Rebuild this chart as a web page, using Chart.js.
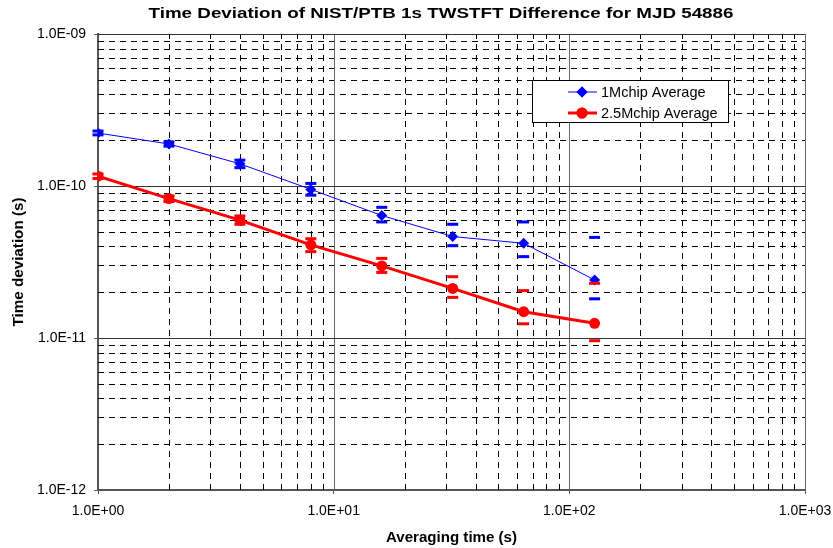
<!DOCTYPE html>
<html>
<head>
<meta charset="utf-8">
<script src="https://cdn.jsdelivr.net/npm/chart.js@4.4.0/dist/chart.umd.min.js"></script>
<style>
  html, body { margin: 0; padding: 0; background: #fff; }
  #wrap { width: 833px; height: 548px; }
</style>
</head>
<body>
<div id="wrap"><canvas id="myChart" width="833" height="548"></canvas></div>
<script>
// averaging times (s)
const tau = [1, 2, 4, 8, 16, 32, 64, 128];

// 1Mchip average: time deviation and error bar ends
const dev1M = [2.23e-10, 1.89e-10, 1.40e-10, 9.5e-11, 6.4e-11, 4.65e-11, 4.2e-11, 2.41e-11];
const hi1M  = [2.30e-10, 1.95e-10, 1.48e-10, 1.04e-10, 7.24e-11, 5.6e-11, 5.8e-11, 4.59e-11];
const lo1M  = [2.17e-10, 1.83e-10, 1.32e-10, 8.7e-11, 5.8e-11, 4.05e-11, 3.43e-11, 1.81e-11];

// 2.5Mchip average
const dev25M = [1.16e-10, 8.26e-11, 5.97e-11, 4.1e-11, 2.98e-11, 2.12e-11, 1.49e-11, 1.25e-11];
const hi25M  = [1.20e-10, 8.6e-11, 6.35e-11, 4.5e-11, 3.34e-11, 2.53e-11, 2.05e-11, 2.29e-11];
const lo25M  = [1.12e-10, 7.9e-11, 5.6e-11, 3.7e-11, 2.70e-11, 1.85e-11, 1.24e-11, 9.6e-12];

const xMajors = [1, 10, 100, 1000];
const xTickLabels = ['1.0E+00', '1.0E+01', '1.0E+02', '1.0E+03'];
const yMajors = [1e-12, 1e-11, 1e-10, 1e-9];
const yTickLabels = ['1.0E-12', '1.0E-11', '1.0E-10', '1.0E-09'];

const titleText = 'Time Deviation of NIST/PTB 1s TWSTFT Difference for MJD 54886';
const xTitle = 'Averaging time (s)';
const yTitle = 'Time deviation (s)';
const FONT = 'Arial, "Liberation Sans", Helvetica, sans-serif';

function pts(ys) {
  return tau.map((t, i) => ({ x: t, y: ys[i] }));
}

// text stretched to a given width (the reference is a widened Excel export)
function wideText(ctx, text, cx, cy, width, angle) {
  ctx.save();
  ctx.translate(cx, cy);
  if (angle) ctx.rotate(angle);
  const w = ctx.measureText(text).width;
  ctx.scale(width / w, 1);
  ctx.fillText(text, 0, 0);
  ctx.restore();
}

const gridPlugin = {
  id: 'excelGrid',
  beforeDatasetsDraw(chart) {
    const { ctx, chartArea: a, scales: { x, y } } = chart;
    ctx.save();
    ctx.lineWidth = 1;
    ctx.strokeStyle = '#000';
    ctx.setLineDash([6, 5]);
    for (let d = 0; d < xMajors.length - 1; d++) {
      for (let m = 2; m <= 9; m++) {
        const px = Math.round(x.getPixelForValue(xMajors[d] * m)) + 0.5;
        ctx.beginPath();
        ctx.moveTo(px, a.bottom);
        ctx.lineTo(px, a.top);
        ctx.stroke();
      }
    }
    for (let d = 0; d < yMajors.length - 1; d++) {
      for (let m = 2; m <= 9; m++) {
        const py = Math.round(y.getPixelForValue(yMajors[d] * m)) + 0.5;
        ctx.beginPath();
        ctx.moveTo(a.left, py);
        ctx.lineTo(a.right, py);
        ctx.stroke();
      }
    }
    ctx.setLineDash([]);
    ctx.strokeStyle = '#666';
    xMajors.slice(1).forEach(v => {
      const px = Math.round(x.getPixelForValue(v)) + 0.5;
      ctx.beginPath(); ctx.moveTo(px, a.top); ctx.lineTo(px, a.bottom); ctx.stroke();
    });
    ctx.strokeStyle = '#333';
    yMajors.slice(1).forEach(v => {
      const py = Math.round(y.getPixelForValue(v)) + 0.5;
      ctx.beginPath(); ctx.moveTo(a.left, py); ctx.lineTo(a.right, py); ctx.stroke();
    });
    ctx.restore();
  },
  afterDatasetsDraw(chart) {
    const { ctx, scales: { x, y } } = chart;
    ctx.save();
    chart.data.datasets.forEach(ds => {
      ctx.strokeStyle = ds.borderColor;
      ctx.lineWidth = 3;
      tau.forEach((t, i) => {
        const px = x.getPixelForValue(t);
        [ds.errHi[i], ds.errLo[i]].forEach(v => {
          const py = y.getPixelForValue(v);
          ctx.beginPath();
          ctx.moveTo(px - 5.5, py);
          ctx.lineTo(px + 5.5, py);
          ctx.stroke();
        });
      });
    });
    ctx.restore();
  },
  afterDraw(chart) {
    const { ctx, chartArea: a } = chart;
    ctx.save();
    ctx.fillStyle = '#000';
    ctx.textAlign = 'center';
    ctx.textBaseline = 'middle';
    ctx.font = 'bold 15px ' + FONT;
    wideText(ctx, titleText, 441, 14, 585, 0);
    ctx.font = 'bold 14px ' + FONT;
    wideText(ctx, xTitle, (a.left + a.right) / 2, 538, 131, 0);
    wideText(ctx, yTitle, 19, (a.top + a.bottom) / 2, 129, -Math.PI / 2);
    // legend
    const lx = 532, ly = 80, lw = 196, lh = 42;
    ctx.fillStyle = '#fff';
    ctx.fillRect(lx, ly, lw, lh);
    ctx.strokeStyle = '#000';
    ctx.lineWidth = 1;
    ctx.strokeRect(lx + 0.5, ly + 0.5, lw, lh);
    ctx.font = '14.5px ' + FONT;
    ctx.textAlign = 'left';
    chart.data.datasets.forEach((ds, i) => {
      const cy = 92 + i * 21;
      ctx.strokeStyle = ds.borderColor;
      ctx.lineWidth = ds.borderWidth;
      ctx.beginPath();
      ctx.moveTo(568, cy);
      ctx.lineTo(597, cy);
      ctx.stroke();
      ctx.fillStyle = ds.borderColor;
      Chart.helpers.drawPoint(ctx, { pointStyle: ds.pointStyle, radius: ds.pointRadius, borderWidth: 0 }, 582, cy);
      ctx.fill();
      ctx.fillStyle = '#000';
      ctx.fillText(ds.label, 601, cy + 1);
    });
    ctx.restore();
  }
};

const ctx = document.getElementById('myChart').getContext('2d');
new Chart(ctx, {
  type: 'line',
  data: {
    datasets: [{
      label: '1Mchip Average',
      data: pts(dev1M),
      errHi: hi1M,
      errLo: lo1M,
      borderColor: '#0000ff',
      backgroundColor: '#0000ff',
      borderWidth: 1,
      pointStyle: 'rectRot',
      pointRadius: 5.5,
      pointBorderWidth: 0,
      tension: 0
    }, {
      label: '2.5Mchip Average',
      data: pts(dev25M),
      errHi: hi25M,
      errLo: lo25M,
      borderColor: '#ff0000',
      backgroundColor: '#ff0000',
      borderWidth: 3,
      pointStyle: 'circle',
      pointRadius: 5.5,
      pointBorderWidth: 0,
      tension: 0
    }]
  },
  options: {
    responsive: false,
    animation: false,
    layout: { padding: { top: 34, right: 28, left: 0, bottom: 0 } },
    plugins: {
      legend: { display: false },
      title: { display: false },
      tooltip: { enabled: false }
    },
    scales: {
      x: {
        type: 'logarithmic',
        min: 1,
        max: 1000,
        afterBuildTicks: s => { s.ticks = xMajors.map(v => ({ value: v, major: true })); },
        afterFit: s => { s.height = 58; s.paddingRight = 0; s.paddingLeft = 0; },
        ticks: {
          autoSkip: false,
          maxRotation: 0,
          padding: 9,
          color: '#000',
          font: { family: FONT, size: 14 },
          callback: (v, i) => xTickLabels[i]
        },
        grid: { drawOnChartArea: false, drawTicks: true, tickLength: 4, color: '#555' },
        border: { color: '#555', width: 2 }
      },
      y: {
        type: 'logarithmic',
        min: 1e-12,
        max: 1e-9,
        afterBuildTicks: s => { s.ticks = yMajors.map(v => ({ value: v, major: true })); },
        afterFit: s => { s.width = 98; },
        ticks: {
          autoSkip: false,
          padding: 8,
          color: '#000',
          font: { family: FONT, size: 14 },
          callback: (v, i) => yTickLabels[i]
        },
        grid: { drawOnChartArea: false, drawTicks: true, tickLength: 4, color: '#555' },
        border: { color: '#555', width: 2 }
      }
    }
  },
  plugins: [gridPlugin]
});
</script>
</body>
</html>
